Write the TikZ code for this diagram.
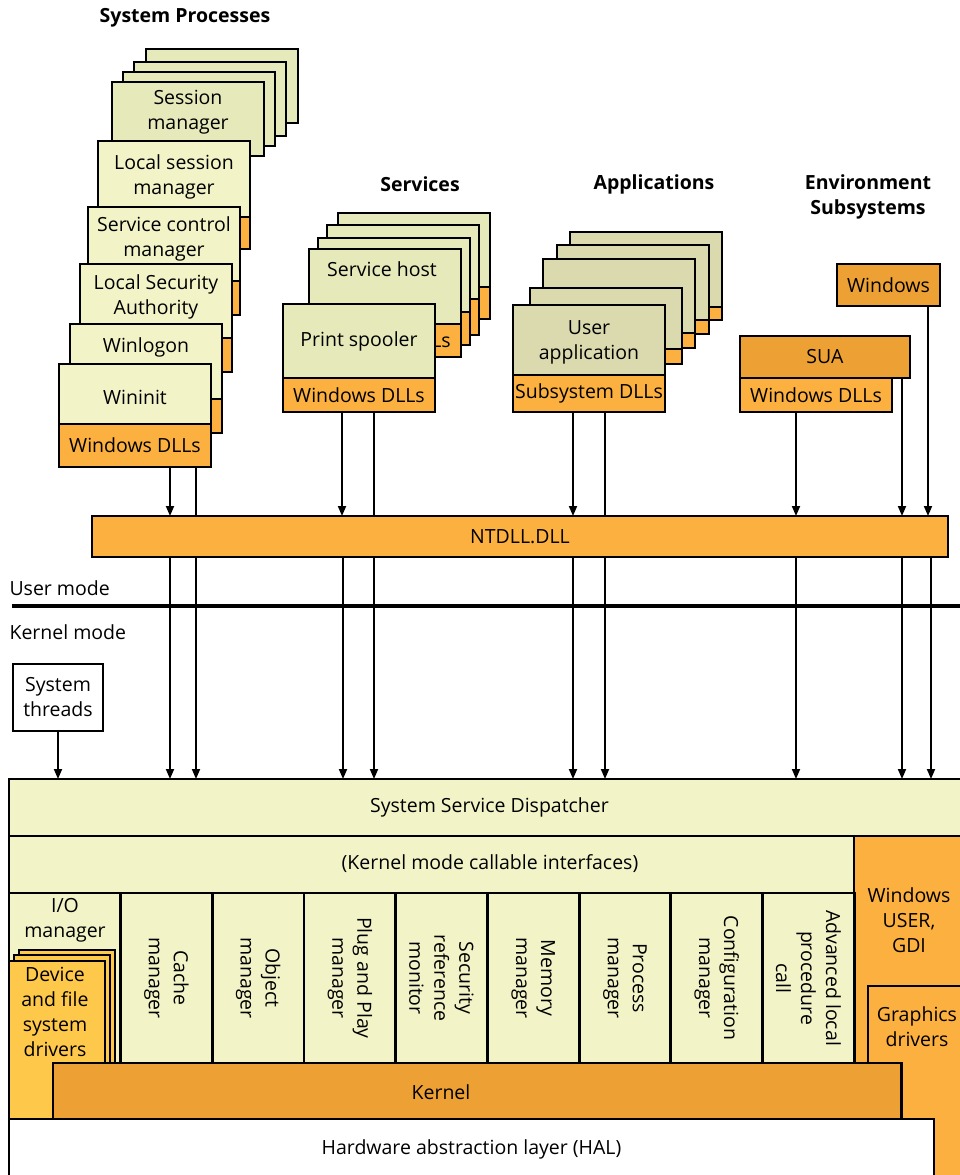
\documentclass[tikz,border=0pt]{standalone}
\usepackage{fontspec}
\setmainfont{Open Sans}
\usetikzlibrary{arrows.meta}
\definecolor{paleyel}{HTML}{F2F4C7}
\definecolor{midyel}{HTML}{E6E9BA}
\definecolor{appyel}{HTML}{DBDAAF}
\definecolor{dllorg}{HTML}{FBB040}
\definecolor{darkorg}{HTML}{EDA134}
\definecolor{drvorg}{HTML}{FEC84B}
\tikzset{
  box/.style={draw=black,line width=2.8pt,anchor=north west,inner sep=0pt,outer sep=0pt,align=center},
  rect/.style 2 args={minimum width=#1,minimum height=#2},
  heading/.style={font=\fontsize{19.5}{25}\selectfont\bfseries,align=center},
  txt/.style={align=center},
  conn/.style={line width=1.8pt}
}
\begin{document}
\begin{tikzpicture}[x=1pt,y=-1pt,>={Triangle[length=10pt,width=8pt]},
  every node/.style={font=\fontsize{19.5}{25}\selectfont}]
\useasboundingbox (0,0) rectangle (960,1175);

\node[heading] (procs) at (185,18) {System Processes};
\node[heading] (servs) at (420,184) {Services};
\node[heading] (apps) at (654,184) {Applications};
\node[heading] (envs) at (868,197) {Environment\\Subsystems};

\foreach \n/\x/\y in {4/146/49,3/134/62,2/123/72}
  \node[box,fill=midyel,rect={152}{74}] (sm\n) at (\x,\y) {};
\node[box,fill=midyel,rect={152}{74}] (sm) at (112,82) {};
\node[txt] (smt) at (188,112) {Session\\manager};
\node[box,fill=paleyel,rect={152}{76}] (lsm) at (98,141) {};
\node[box,fill=dllorg,rect={152}{32}] (lsmdll) at (lsm.south west) {};
\node[txt] (lsmt) at (174,177) {Local session\\manager};
\node[box,fill=paleyel,rect={152}{74}] (scm) at (88,207) {};
\node[box,fill=dllorg,rect={152}{34}] (scmdll) at (scm.south west) {};
\node[txt] (scmt) at (164,239) {Service control\\manager};
\node[box,fill=paleyel,rect={152}{74}] (lsa) at (80,264) {};
\node[box,fill=dllorg,rect={152}{34}] (lsadll) at (lsa.south west) {};
\node[txt] (lsat) at (156,297) {Local Security\\Authority};
\node[box,fill=paleyel,rect={152}{75}] (wlg) at (70,324) {};
\node[box,fill=dllorg,rect={152}{34}] (wlgdll) at (wlg.south west) {};
\node (wlgt) at (146,347) {Winlogon};
\node[box,fill=paleyel,rect={152}{60}] (wini) at (59,364) {};
\node[box,fill=dllorg,rect={152}{43}] (wdll) at (wini.south west) {Windows DLLs};
\node (winit) at (135,397) {Wininit};

\foreach \n/\x/\y/\d in {4/338/213/32,3/327/225/36,2/318/238/33} {
  \node[box,fill=midyel,rect={152}{74}] (sv\n) at (\x,\y) {};
  \node[box,fill=dllorg,rect={152}{\d}] (svdll\n) at (sv\n.south west) {};
}
\node[box,fill=midyel,rect={152}{75}] (shost) at (309,249) {};
\node[box,fill=dllorg,rect={152}{33}] (shdll) at (shost.south west) {Windows DLLs};
\node (shostt) at (382,269) {Service host};
\node[box,fill=midyel,rect={152}{74}] (spool) at (283,304) {Print spooler};
\node[box,fill=dllorg,rect={152}{34}] (psdll) at (spool.south west) {Windows DLLs};

\foreach \n/\x/\y/\h/\d in {4/570/232/75/13,3/557/245/75/14,2/543/259/74/15,1/530/288/61/15} {
  \node[box,fill=appyel,rect={152}{\h}] (ap\n) at (\x,\y) {};
  \node[box,fill=dllorg,rect={152}{\d}] (apdll\n) at (ap\n.south west) {};
}
\node[box,fill=appyel,rect={152}{70}] (uapp) at (513,305) {};
\node[txt] (uappt) at (589,342) {User\\application};
\node[box,fill=dllorg,rect={152}{37}] (uadll) at (uapp.south west) {Subsystem DLLs};

\node[box,fill=darkorg,rect={103}{42}] (winss) at (837,264) {Windows};
\node[box,fill=darkorg,rect={170}{42}] (sua) at (740,336) {SUA};
\node[box,fill=dllorg,rect={152}{34}] (suadll) at (sua.south west) {Windows DLLs};

\coordinate (modeL) at (12,606);
\coordinate (modeR) at (970,606);
\draw[line width=4.5pt] (modeL) -- (modeR);
\node[anchor=west] (umode) at (6,588) {User mode};
\node[anchor=west] (kmode) at (6,632) {Kernel mode};
\node[box,fill=white,rect={90}{67}] (thr) at (13,664) {System\\threads};

\node[box,fill=paleyel,rect={961}{57}] (ssd) at (9,779) {System Service Dispatcher};
\node[box,fill=dllorg,rect={116}{350}] (gdi) at (854,836) {};
\node[txt] (gdit) at (909,920) {Windows\\USER,\\GDI};
\node[box,fill=paleyel,rect={845}{57}] (kmci) at (9,836) {};
\node (kmcit) at (490,864) {(Kernel mode callable interfaces)};
\node[box,fill=paleyel,rect={111.6}{170}] (io) at (9,893) {};
\node[txt] (iot) at (65,920) {I/O\\manager};
\foreach \i/\lbl in {0/Cache\\manager,1/Object\\manager,2/Plug and Play\\manager,
    3/Security\\reference\\monitor,4/Memory\\manager,5/Process\\manager,
    6/Configuration\\manager,7/Advanced local\\procedure\\call} {
  \node[box,fill=paleyel,rect={91.7}{170}] (col\i) at (120.6+91.7*\i,893) {};
  \node[txt,rotate=-90] (colt\i) at (col\i.center) {\lbl};
}
\node[box,line width=2pt,fill=drvorg,rect={96}{113}] (drv3) at (19,950) {};
\node[box,line width=2pt,fill=drvorg,rect={96}{108}] (drv2) at (14,955) {};
\node[box,line width=2pt,fill=drvorg,rect={96}{158}] (drv) at (9,961) {};
\node[txt] (drvt) at (55,1012) {Device\\and file\\system\\drivers};
\node[box,fill=dllorg,rect={102}{210}] (gfx) at (868,986) {};
\node[txt] (gfxt) at (917,1027) {Graphics\\drivers};
\node[box,fill=darkorg,rect={848.5}{56}] (kern) at (53,1063) {};
\node (kernt) at (441,1092) {Kernel};
\node[box,fill=white,rect={925}{80}] (hal) at (9,1119) {};
\node (halt) at (471.5,1149) {Hardware abstraction layer (HAL)};

\draw[conn,->] (thr) -- (thr |- ssd.north);
\foreach \s/\x in {wdll/196,psdll/374,uadll/605}
  \draw[conn,->] (\s.south -| \x,0) -- (ssd.north -| \x,0);
\node[box,fill=dllorg,rect={856}{41}] (ntdll) at (92,516) {NTDLL.DLL};
\foreach \s/\x in {wdll/170,psdll/342,uadll/573,suadll/796,sua/902,winss/928}
  \draw[conn,->] (\s.south -| \x,0) -- (ntdll.north -| \x,0);
\foreach \x in {170,343,573,796,902,931}
  \draw[conn,->] (ntdll.south -| \x,0) -- (ssd.north -| \x,0);
\end{tikzpicture}
\end{document}
